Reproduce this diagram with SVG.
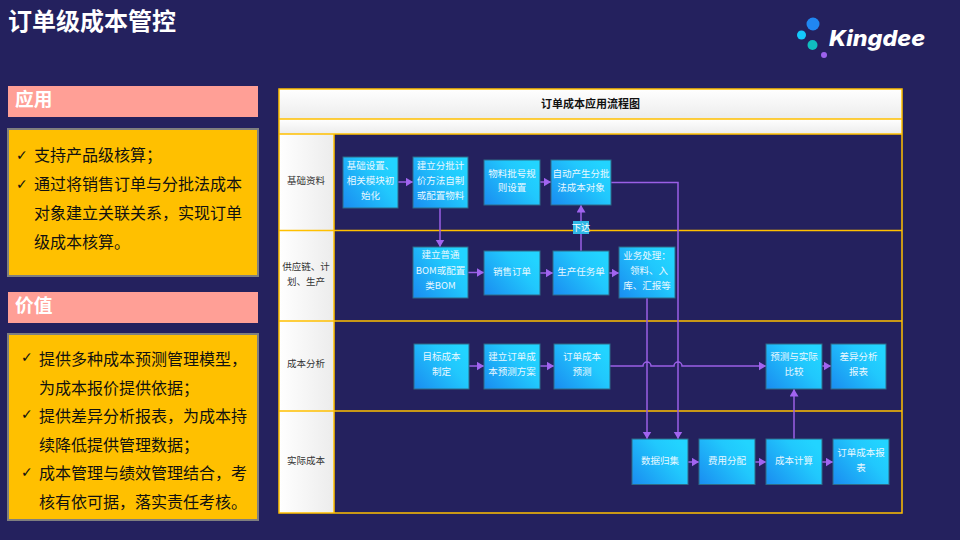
<svg xmlns="http://www.w3.org/2000/svg" width="960" height="540" viewBox="0 0 960 540">
<style>
text{font-family:"Noto Sans CJK SC","Liberation Sans",sans-serif}
.node rect{fill:url(#ng);stroke:#2f6a86;stroke-width:1}
.node text{fill:#e8f8ff;font-size:9.500px;text-anchor:middle}
.lab{fill:#333;font-size:9.500px;text-anchor:middle}
.hd{fill:#FF9F96}
.hdt{fill:#fff;font-size:18.7px;font-weight:700}
.box{fill:#FFC000;stroke:#7f7f7f;stroke-width:2}
.bt{fill:#111;font-size:16px}
.ck{fill:#111;font-size:14px;font-weight:700;font-family:"DejaVu Sans",sans-serif}
.gl{fill:none;stroke:#FFC000;stroke-width:1.5}
.c{fill:none;stroke:#9a5fe6;stroke-width:1.5;marker-end:url(#a)}
</style>
<defs>
<linearGradient id="ng" x1="0" y1="1" x2="1" y2="0.3"><stop offset="0" stop-color="#1a8cf0"/><stop offset="0.7" stop-color="#21c8fd"/><stop offset="1" stop-color="#22d4ff"/></linearGradient>
<linearGradient id="hv" x1="0" y1="0" x2="0" y2="1"><stop offset="0" stop-color="#fff"/><stop offset="1" stop-color="#ececec"/></linearGradient>
<linearGradient id="hh" x1="0" y1="0" x2="1" y2="0"><stop offset="0" stop-color="#fff"/><stop offset="1" stop-color="#ececec"/></linearGradient>
<marker id="a" markerUnits="userSpaceOnUse" markerWidth="9" markerHeight="10" refX="7.500" refY="4.500" orient="auto"><path d="M0 0L7.500 4.500L0 9Z" fill="#a164f0"/></marker>
</defs>
<rect width="960" height="540" fill="#24215E"/>
<text id="title" x="8" y="30" font-size="24" font-weight="700" fill="#fff">订单级成本管控</text>
<g id="logo">
<circle cx="813" cy="24" r="6.500" fill="#2087f2"/><circle cx="801.500" cy="35" r="4.500" fill="#14c8fb"/><circle cx="812.500" cy="45" r="5" fill="#10bdbf"/><circle cx="824" cy="55" r="3" fill="#9c62ec"/>
<text x="829" y="46" style="font-family:'Inter','Liberation Sans',sans-serif" font-size="22" font-weight="800" font-style="italic" fill="#fff" textLength="96" lengthAdjust="spacingAndGlyphs">Kingdee</text>
</g>
<g id="app-head"><rect class="hd" x="8" y="86" width="250" height="31"/><text class="hdt" x="15" y="106">应用</text></g>
<g id="app-body"><rect class="box" x="8" y="129" width="250" height="147"/>
<text class="ck" x="16" y="160">✓</text><text class="bt" x="34" y="161">支持产品级核算；</text>
<text class="ck" x="16" y="189">✓</text><text class="bt" x="34" y="190">通过将销售订单与分批法成本</text>
<text class="bt" x="34" y="219">对象建立关联关系，实现订单</text>
<text class="bt" x="34" y="248">级成本核算。</text></g>
<g id="val-head"><rect class="hd" x="8" y="292" width="250" height="31"/><text class="hdt" x="15" y="312">价值</text></g>
<g id="val-body"><rect class="box" x="8" y="334" width="250" height="186"/>
<text class="ck" x="21" y="362">✓</text><text class="bt" x="39" y="365">提供多种成本预测管理模型，</text>
<text class="bt" x="39" y="394">为成本报价提供依据；</text>
<text class="ck" x="21" y="419">✓</text><text class="bt" x="39" y="422">提供差异分析报表，为成本持</text>
<text class="bt" x="39" y="451">续降低提供管理数据；</text>
<text class="ck" x="21" y="477">✓</text><text class="bt" x="39" y="479">成本管理与绩效管理结合，考</text>
<text class="bt" x="39" y="508">核有依可据，落实责任考核。</text></g>
<g id="frame">
<rect x="279" y="89" width="623" height="30" fill="url(#hv)"/>
<rect x="279" y="119" width="623" height="15" fill="url(#hv)"/>
<rect x="279" y="134" width="55" height="379" fill="url(#hh)"/>
<path class="gl" d="M279 89H902V513H279ZM279 119H902M279 134H902M334 134V513M279 230.500H902M279 321H902M279 411H902"/>
<text x="590.500" y="107.500" font-size="11" font-weight="700" fill="#111" text-anchor="middle">订单成本应用流程图</text>
<text class="lab" x="306" y="184.400">基础资料</text>
<text class="lab" x="306" y="270.400">供应链、计</text><text class="lab" x="306" y="285.400">划、生产</text>
<text class="lab" x="306" y="367.400">成本分析</text>
<text class="lab" x="306" y="464.400">实际成本</text>
</g>
<g id="connectors">
<path class="c" d="M398 182H413"/>
<path class="c" d="M440 208V247"/>
<path class="c" d="M540 182H551"/>
<path class="c" d="M468 272.500H484"/>
<path class="c" d="M540 273H553"/>
<path class="c" d="M609 273H619"/>
<path class="c" d="M581 251V205"/>
<path class="c" d="M611 182.500H678V439"/>
<path class="c" d="M647 298V439"/>
<path class="c" d="M469 366H484"/>
<path class="c" d="M540 366H554"/>
<path class="c" d="M610 366H643a4 4 0 0 1 8 0H674a4 4 0 0 1 8 0H766"/>
<path class="c" d="M822 366H831"/>
<path class="c" d="M688 462H699"/>
<path class="c" d="M755 462H766"/>
<path class="c" d="M822 462H833"/>
<path class="c" d="M794 439V389"/>
</g>
<g id="xd"><rect x="573" y="221" width="16" height="13" fill="#2fb8e6"/><text x="581" y="231" font-size="9.330" fill="#fff" text-anchor="middle">下达</text></g>
<g id="n1" class="node"><rect x="343" y="157" width="55" height="51"/><text x="370.500" y="169.400">基础设置、</text><text x="370.500" y="184.400">相关模块初</text><text x="370.500" y="199.400">始化</text></g>
<g id="n2" class="node"><rect x="413" y="157" width="55" height="51"/><text x="440.500" y="169.400">建立分批计</text><text x="440.500" y="184.400">价方法自制</text><text x="440.500" y="199.400">或配置物料</text></g>
<g id="n3" class="node"><rect x="484" y="160" width="56" height="45"/><text x="512" y="177.400">物料批号规</text><text x="512" y="191.400">则设置</text></g>
<g id="n4" class="node"><rect x="551" y="160" width="60" height="45"/><text x="581" y="177.400">自动产生分批</text><text x="581" y="191.400">法成本对象</text></g>
<g id="n5" class="node"><rect x="413" y="247" width="55" height="51"/><text x="440.500" y="258.400">建立普通</text><text x="440.500" y="274.400">BOM或配置</text><text x="440.500" y="289.400">类BOM</text></g>
<g id="n6" class="node"><rect x="484" y="251" width="56" height="44"/><text x="512" y="275.400">销售订单</text></g>
<g id="n7" class="node"><rect x="553" y="251" width="56" height="44"/><text x="581" y="275.400">生产任务单</text></g>
<g id="n8" class="node"><rect x="619" y="247" width="56" height="51"/><text x="647" y="259.400">业务处理：</text><text x="649" y="274.400">领料、入</text><text x="647" y="289.400">库、汇报等</text></g>
<g id="n9" class="node"><rect x="414" y="344" width="55" height="45"/><text x="441.500" y="360.400">目标成本</text><text x="441.500" y="375.400">制定</text></g>
<g id="n10" class="node"><rect x="484" y="344" width="56" height="45"/><text x="512" y="360.400">建立订单成</text><text x="512" y="375.400">本预测方案</text></g>
<g id="n11" class="node"><rect x="554" y="344" width="56" height="45"/><text x="582" y="360.400">订单成本</text><text x="582" y="375.400">预测</text></g>
<g id="n12" class="node"><rect x="766" y="344" width="56" height="45"/><text x="794" y="360.400">预测与实际</text><text x="794" y="375.400">比较</text></g>
<g id="n13" class="node"><rect x="831" y="344" width="55" height="45"/><text x="858.500" y="360.400">差异分析</text><text x="858.500" y="375.400">报表</text></g>
<g id="n14" class="node"><rect x="632" y="439" width="56" height="45.500"/><text x="660" y="464.400">数据归集</text></g>
<g id="n15" class="node"><rect x="699" y="439" width="56" height="45.500"/><text x="727" y="464.400">费用分配</text></g>
<g id="n16" class="node"><rect x="766" y="439" width="56" height="45.500"/><text x="794" y="464.400">成本计算</text></g>
<g id="n17" class="node"><rect x="833" y="439" width="56" height="45.500"/><text x="861" y="456.400">订单成本报</text><text x="861" y="471.400">表</text></g>
</svg>
